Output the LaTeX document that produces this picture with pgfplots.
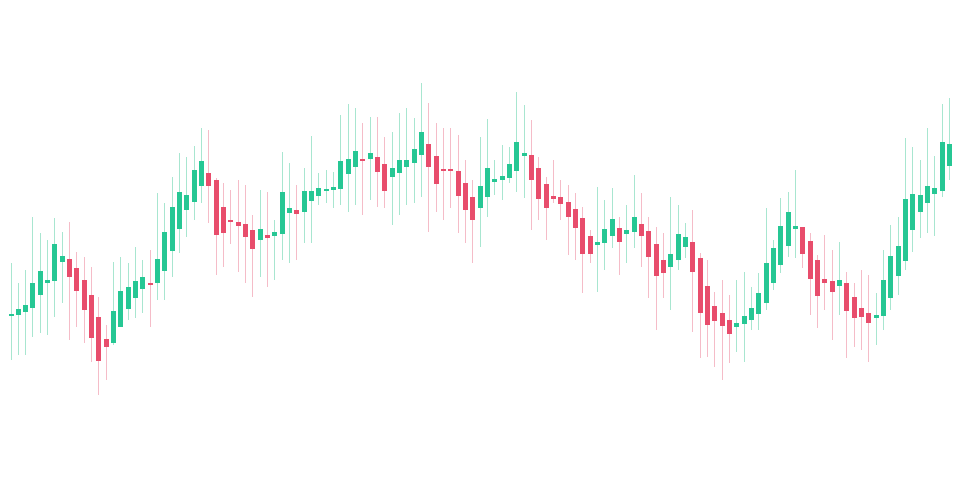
\documentclass[border=0pt]{standalone}
\usepackage{pgfplots}
\usepackage{pgfplotstable}
\pgfplotsset{compat=1.18}
\definecolor{upc}{HTML}{26C794}
\definecolor{dnc}{HTML}{E84D6C}
\definecolor{upw}{HTML}{A8E6D0}
\definecolor{dnw}{HTML}{F5BCC8}
% i d O H L C  (pixel rows, y grows downward)
\pgfplotstableread{
i d O H L C
0 1 316 263 360 314
1 1 315 283 355 309
2 1 312 270 355 305
3 1 308 217 337 283
4 1 295 233 333 271
5 1 283 240 335 280
6 1 281 218 317 244
7 1 262 232 303 256
8 -1 259 222 340 277
9 -1 268 252 327 291
10 -1 280 257 343 310
11 -1 295 267 362 338
12 -1 317 297 395 361
13 -1 339 325 380 347
14 1 343 262 345 311
15 1 327 257 327 291
16 1 309 263 320 287
17 1 298 247 318 281
18 1 289 260 313 277
19 -1 283 250 327 285
20 1 283 193 300 259
21 1 271 203 300 232
22 1 251 177 277 207
23 1 229 153 253 192
24 1 210 157 237 195
25 1 202 146 220 170
26 1 186 128 203 161
27 -1 173 130 223 186
28 -1 180 178 275 235
29 -1 207 183 267 233
30 -1 220 190 244 222
31 -1 222 180 272 226
32 -1 224 185 283 237
33 -1 230 215 297 249
34 1 240 190 277 229
35 -1 235 192 287 238
36 1 236 220 280 232
37 1 234 152 260 192
38 1 213 163 263 208
39 -1 210 185 260 214
40 1 212 168 243 191
41 1 201 136 243 191
42 1 196 173 205 188
43 1 191 170 203 189
44 1 190 172 208 187
45 1 189 115 205 161
46 1 174 104 212 159
47 1 167 108 205 151
48 -1 159 123 215 161
49 1 159 117 200 153
50 -1 157 117 207 172
51 -1 164 137 208 191
52 1 177 132 225 168
53 1 173 113 215 160
54 1 167 108 205 160
55 1 163 118 203 149
56 1 155 83 197 132
57 -1 144 103 232 167
58 -1 156 123 212 184
59 -1 169 128 220 171
60 -1 169 128 208 171
61 -1 171 135 233 196
62 -1 183 160 243 210
63 -1 197 180 263 220
64 1 208 137 247 186
65 1 197 119 217 168
66 1 182 160 195 179
67 1 180 145 200 176
68 1 178 147 183 164
69 1 171 92 192 142
70 1 156 105 198 153
71 -1 155 120 230 180
72 -1 168 157 220 199
73 -1 184 177 240 208
74 -1 196 160 203 199
75 -1 197 180 220 204
76 -1 202 185 255 217
77 -1 209 193 260 228
78 -1 218 207 293 254
79 -1 236 230 263 254
80 1 245 187 292 242
81 1 243 200 270 229
82 1 236 188 248 219
83 -1 228 217 275 242
84 1 234 205 263 230
85 1 232 175 248 217
86 -1 224 193 267 236
87 -1 231 217 298 257
88 -1 244 227 330 276
89 -1 260 233 298 273
90 1 267 197 310 254
91 1 260 205 270 234
92 1 247 223 258 237
93 -1 242 210 332 272
94 -1 258 253 358 313
95 -1 286 260 357 325
96 -1 306 292 367 321
97 -1 313 280 380 326
98 -1 320 295 363 334
99 1 327 280 352 323
100 1 324 272 362 316
101 1 320 287 330 308
102 1 314 273 330 293
103 1 303 208 310 263
104 1 283 240 290 248
105 1 265 198 273 226
106 1 246 192 257 212
107 1 229 170 258 226
108 -1 227 227 268 254
109 -1 241 233 315 279
110 -1 260 255 328 296
111 -1 279 235 310 283
112 -1 281 250 340 292
113 1 286 242 315 280
114 -1 283 272 358 311
115 -1 297 283 347 318
116 -1 308 270 350 317
117 -1 313 275 362 323
118 1 318 293 345 315
119 1 316 250 330 280
120 1 298 225 310 256
121 1 276 217 295 246
122 1 261 138 270 199
123 1 230 147 252 194
124 1 212 160 238 195
125 1 203 128 233 186
126 1 194 156 236 188
127 1 191 104 197 142
128 1 166 98 180 144
}\candles
\begin{document}
\begin{tikzpicture}
\useasboundingbox (0,0) rectangle (960pt,480pt);
\fill[white] (0,0) rectangle (960pt,480pt);
\begin{axis}[at={(0,0)}, anchor=south west, scale only axis,
  width=960pt, height=480pt, xmin=0, xmax=960, ymin=0, ymax=480,
  hide axis, clip=false]
% wicks
\addplot[draw=none, mark=none, forget plot,
  restrict expr to domain={\thisrow{d}}{0.5:2},
  error bars/.cd, y dir=both, y explicit, error mark=none,
  error bar style={draw=upw, line width=1pt, solid}]
  table[x expr=11+7.333*\thisrow{i}, y expr=480-(\thisrow{H}+\thisrow{L})/2,
        y error expr=(\thisrow{L}-\thisrow{H})/2] {\candles};
\addplot[draw=none, mark=none, forget plot,
  restrict expr to domain={\thisrow{d}}{-2:-0.5},
  error bars/.cd, y dir=both, y explicit, error mark=none,
  error bar style={draw=dnw, line width=1pt, solid}]
  table[x expr=11+7.333*\thisrow{i}, y expr=480-(\thisrow{H}+\thisrow{L})/2,
        y error expr=(\thisrow{L}-\thisrow{H})/2] {\candles};
% bodies
\addplot[draw=none, mark=none, forget plot,
  restrict expr to domain={\thisrow{d}}{0.5:2},
  error bars/.cd, y dir=both, y explicit, error mark=none,
  error bar style={draw=upc, line width=5pt, solid}]
  table[x expr=11+7.333*\thisrow{i}, y expr=480-(\thisrow{O}+\thisrow{C})/2,
        y error expr={max(abs(\thisrow{O}-\thisrow{C})/2,1.3)}] {\candles};
\addplot[draw=none, mark=none, forget plot,
  restrict expr to domain={\thisrow{d}}{-2:-0.5},
  error bars/.cd, y dir=both, y explicit, error mark=none,
  error bar style={draw=dnc, line width=5pt, solid}]
  table[x expr=11+7.333*\thisrow{i}, y expr=480-(\thisrow{O}+\thisrow{C})/2,
        y error expr={max(abs(\thisrow{O}-\thisrow{C})/2,1.3)}] {\candles};
\end{axis}
\end{tikzpicture}
\end{document}
